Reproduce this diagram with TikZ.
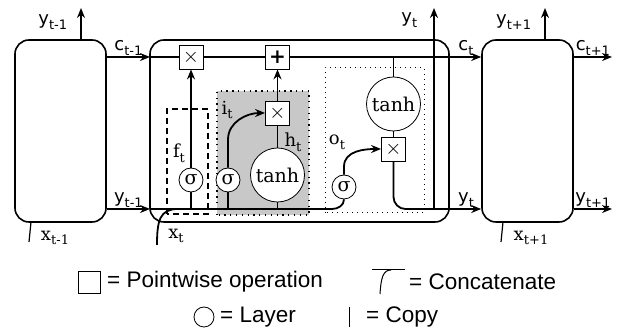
\documentclass[tikz,border=0pt]{standalone}
\usepackage{fontspec}
\setmainfont{DejaVu Serif}
\setsansfont{DejaVu Sans}
\newfontfamily\legendfont{Liberation Sans}
\usetikzlibrary{arrows.meta,positioning,calc}
\definecolor{gatefill}{RGB}{200,200,200}

% labels: sans for y and c, serif for the rest
\newcommand{\sv}[2]{\textsf{#1}\raisebox{-0.5ex}{\fontsize{13}{13}\selectfont\sffamily #2}}
\newcommand{\rv}[2]{#1\raisebox{-0.5ex}{\fontsize{13}{13}\selectfont #2}}

\begin{document}
\begin{tikzpicture}[
  x=1pt, y=1pt,
  >={Stealth[length=10pt,width=8pt]},
  cell/.style={draw, line width=1.6pt, rounded corners=14pt,
               minimum width=#1, minimum height=182pt, inner sep=0pt},
  op/.style={draw, line width=0.8pt, fill=white, minimum size=24pt, inner sep=0pt,
             font=\fontsize{20}{20}\selectfont},
  lay/.style={draw, circle, line width=0.8pt, fill=white, minimum size=#1, inner sep=0pt,
              font=\fontsize{19}{19}\selectfont},
  wire/.style={line width=1.8pt},
  lbl/.style={font=\fontsize{18}{18}\selectfont, inner sep=1pt},
  legend/.style={font=\legendfont\fontsize{22.5}{22.5}\selectfont, inner sep=0pt, anchor=west}
]
  \useasboundingbox (0,0) rectangle (623,328);

  % gates
  \draw[line width=1.3pt, dash pattern=on 1.3pt off 4.5pt, fill=gatefill] (217,113) rectangle (309,237);
  \draw[line width=1.1pt, dash pattern=on 6pt off 4pt] (167,114) rectangle (208,219);
  \draw[line width=1pt, dash pattern=on 1pt off 4pt] (325,115) rectangle (424,260);

  % cells
  \node[cell=91pt] (prev) at (60.5,197) {};
  \node[cell=299pt] (cur) at (299.5,197) {};
  \node[cell=91pt] (next) at (527.5,197) {};

  \coordinate (cin) at (150,271);
  \coordinate (yin) at (150,119);

  % pointwise ops and layers
  \node[op] (fx) at (191,271) {$\times$};
  \node[op] (add) at (277.5,271) {\bfseries +};
  \node[op] (imul) at (277.5,215) {$\times$};
  \node[op] (omul) at (393.5,179) {$\times$};
  \node[lay=24pt] (sf) at (191,148) {σ};
  \node[lay=24pt] (si) at (228,148) {σ};
  \node[lay=54pt] (ti) at (277.5,153) {tanh};
  \node[lay=54pt] (to) at (393.5,224) {tanh};
  \node[lay=24pt] (so) at (344,141) {σ};

  % cell state
  \draw[wire,->] (prev.east |- cin) -- node[lbl,above] {\sv{c}{t-1}} (cin);
  \draw[wire] (cin) -- (fx) -- (add);
  \draw[wire,->] (add) -- node[lbl,above,pos=0.92] {\sv{c}{t}} (next.west |- add);
  \draw[wire] (to) -- (to |- add);

  % hidden input
  \draw[wire,->] (prev.east |- yin) -- node[lbl,above] {\sv{y}{t-1}} (yin);
  \draw[wire] (yin) -- (332,119) to[out=0,in=-90] (so.south);
  \coordinate (xin) at (157,83);
  \draw[wire] (xin) .. controls (157,108) and (160,119) .. (178,119);
  \node[lbl] (xt) at (176,92) {\rv{x}{t}};

  % forget gate
  \draw[wire,->] (sf) -- (fx);
  \draw[wire] (sf) -- (sf |- yin);
  \node[lbl] (ft) at (179,175) {\rv{f}{t}};

  % input gate
  \draw[wire,->] (si.north) -- ++(0,28) to[out=90,in=180] (imul.west);
  \draw[wire] (si) -- (si |- yin);
  \draw[wire] (ti) -- (imul);
  \draw[wire,->] (imul) -- (add);
  \draw[wire] (ti) -- (ti |- yin);
  \node[lbl] (it) at (227,218) {\rv{i}{t}};
  \node[lbl] (ht) at (293,186) {\rv{h}{t}};

  % output gate
  \draw[wire] (to) -- (omul);
  \draw[wire,->] (so.north) -- ++(0,8) to[out=90,in=180] (omul.west);
  \node[lbl] (ot) at (337,186) {\rv{o}{t}};
  \draw[wire,->] (omul) -- (393.5,131) to[out=-90,in=180] (405.5,119)
    -- node[lbl,above,pos=0.8] {\sv{y}{t}} (next.west |- yin);
  \coordinate (yup) at (434,119);
  \coordinate (yout) at (434,320);
  \draw[wire,->] (yup) -- node[lbl,left,pos=0.94,xshift=-15pt] {\sv{y}{t}} (yout);

  % previous cell
  \coordinate (ptop) at (81,320);
  \draw[wire,->] (prev.north -| ptop) -- node[lbl,left,pos=0.55,xshift=-12pt] {\sv{y}{t-1}} (ptop);
  \coordinate (xp) at (29,86);
  \draw[line width=1.2pt] (xp) -- ++(2,20);
  \node[lbl] (xtm) at (55,90) {\rv{x}{t-1}};

  % next cell
  \coordinate (ntop) at (545,320);
  \draw[wire,->] (next.north -| ntop) -- node[lbl,left,pos=0.55,xshift=-12pt] {\sv{y}{t+1}} (ntop);
  \coordinate (cout) at (612,271);
  \draw[wire,->] (next.east |- cout) -- node[lbl,above] {\sv{c}{t+1}} (cout);
  \coordinate (yout2) at (612,119);
  \draw[wire,->] (next.east |- yout2) -- node[lbl,above] {\sv{y}{t+1}} (yout2);
  \coordinate (xn) at (501,86);
  \draw[line width=1.2pt] (xn) -- ++(2,20);
  \node[lbl] (xtp) at (531,90) {\rv{x}{t+1}};

  % legend
  \node[draw, line width=0.8pt, minimum size=22pt, inner sep=0pt] (sq) at (89,46) {};
  \node[legend] (pw) at (107,46) {= Pointwise operation};
  \coordinate (cc) at (372,58);
  \draw[line width=1pt] (cc) -- ++(33,0);
  \draw[line width=1pt] (380,34) .. controls (381,50) and (383,58) .. (391,58);
  \node[legend] (cat) at (409,46) {= Concatenate};
  \node[draw, circle, line width=0.8pt, minimum size=20pt, inner sep=0pt] (lc) at (204,11) {};
  \node[legend] (ly) at (220,11) {= Layer};
  \coordinate (cp) at (349,1);
  \draw[line width=1pt] (cp) -- ++(0,20);
  \node[legend] (cpy) at (366,11) {= Copy};
\end{tikzpicture}
\end{document}
